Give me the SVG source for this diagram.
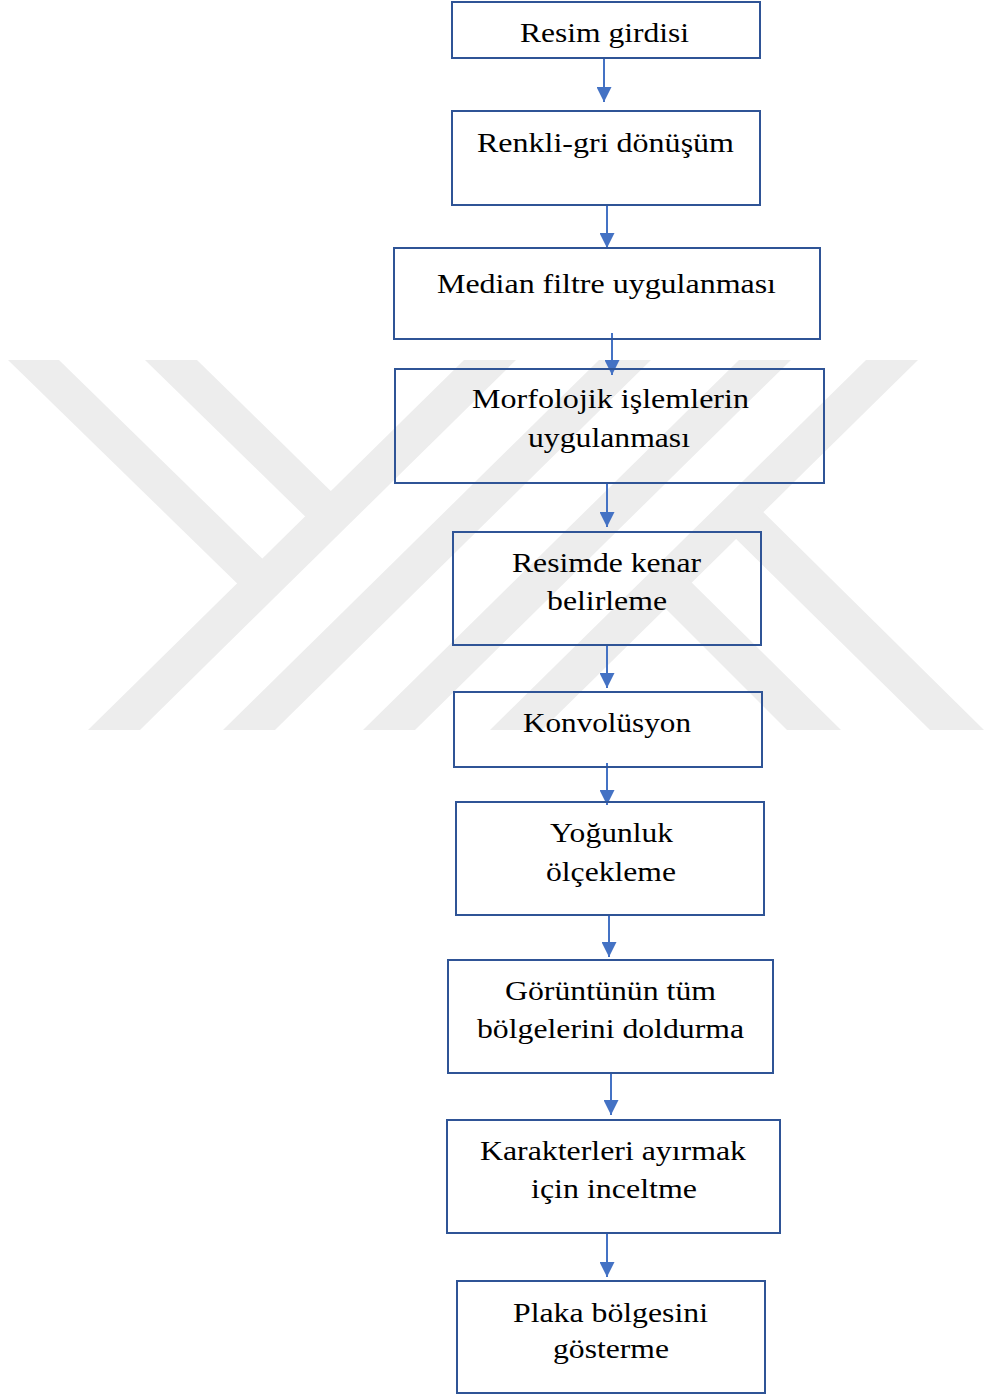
<svg xmlns="http://www.w3.org/2000/svg" width="984" height="1395" viewBox="0 0 984 1395">
  <style>
    .wm { fill: #ededed; stroke: none; }
    .box { fill: none; stroke: #2f5496; stroke-width: 2; }
    .lbl { font-family: "Liberation Serif", "Times New Roman", serif; font-size: 28px; fill: #000000; }
    .conn { stroke: #4472c4; stroke-width: 2; fill: none; marker-end: url(#arrow); }
  </style>
  <defs>
    <marker id="arrow" markerUnits="userSpaceOnUse" markerWidth="15" markerHeight="15" viewBox="0 0 15 15" refX="15" refY="7.5" orient="auto">
      <path d="M0,0 L15,7.5 L0,15 Z" fill="#4472c4"/>
    </marker>
  </defs>
  <rect x="0" y="0" width="984" height="1395" fill="#ffffff"/>

  <g id="watermark">
    <polygon class="wm" points="8,360 59,360 275,571 250,596"/>
    <polygon class="wm" points="145,360 197,360 344,504 318,529"/>
    <polygon class="wm" points="88,730 140,730 516,360 464,360"/>
    <polygon class="wm" points="223,730 275,730 651,360 599,360"/>
    <polygon class="wm" points="363,730 415,730 791,360 739,360"/>
    <polygon class="wm" points="490,730 542,730 918,360 866,360"/>
    <polygon class="wm" points="750,499 984,730 930,730 723,526"/>
    <polygon class="wm" points="679,570 841,730 787,730 653,596"/>
  </g>

  <g id="connectors">
    <line class="conn" x1="604" y1="58" x2="604" y2="102"/>
    <line class="conn" x1="607" y1="205" x2="607" y2="248"/>
    <line class="conn" x1="612" y1="333" x2="612" y2="375"/>
    <line class="conn" x1="607" y1="483" x2="607" y2="527"/>
    <line class="conn" x1="607" y1="645" x2="607" y2="688"/>
    <line class="conn" x1="607" y1="763" x2="607" y2="805"/>
    <line class="conn" x1="609" y1="916" x2="609" y2="957"/>
    <line class="conn" x1="611" y1="1073" x2="611" y2="1115"/>
    <line class="conn" x1="607" y1="1233" x2="607" y2="1277"/>
  </g>

  <g id="n1">
    <rect class="box" x="452" y="2" width="308" height="56"/>
    <text class="lbl" x="520" y="42" textLength="169" lengthAdjust="spacingAndGlyphs">Resim girdisi</text>
  </g>
  <g id="n2">
    <rect class="box" x="452" y="111" width="308" height="94"/>
    <text class="lbl" x="477" y="152" textLength="257" lengthAdjust="spacingAndGlyphs">Renkli-gri dönüşüm</text>
  </g>
  <g id="n3">
    <rect class="box" x="394" y="248" width="426" height="91"/>
    <text class="lbl" x="437" y="293" textLength="339" lengthAdjust="spacingAndGlyphs">Median filtre uygulanması</text>
  </g>
  <g id="n4">
    <rect class="box" x="395" y="369" width="429" height="114"/>
    <text class="lbl" x="472" y="408" textLength="277" lengthAdjust="spacingAndGlyphs">Morfolojik işlemlerin</text>
    <text class="lbl" x="528" y="447" textLength="162" lengthAdjust="spacingAndGlyphs">uygulanması</text>
  </g>
  <g id="n5">
    <rect class="box" x="453" y="532" width="308" height="113"/>
    <text class="lbl" x="512" y="572" textLength="189" lengthAdjust="spacingAndGlyphs">Resimde kenar</text>
    <text class="lbl" x="547" y="610" textLength="120" lengthAdjust="spacingAndGlyphs">belirleme</text>
  </g>
  <g id="n6">
    <rect class="box" x="454" y="692" width="308" height="75"/>
    <text class="lbl" x="523" y="732" textLength="168" lengthAdjust="spacingAndGlyphs">Konvolüsyon</text>
  </g>
  <g id="n7">
    <rect class="box" x="456" y="802" width="308" height="113"/>
    <text class="lbl" x="550" y="842" textLength="123" lengthAdjust="spacingAndGlyphs">Yoğunluk</text>
    <text class="lbl" x="546" y="881" textLength="130" lengthAdjust="spacingAndGlyphs">ölçekleme</text>
  </g>
  <g id="n8">
    <rect class="box" x="448" y="960" width="325" height="113"/>
    <text class="lbl" x="505" y="1000" textLength="211" lengthAdjust="spacingAndGlyphs">Görüntünün tüm</text>
    <text class="lbl" x="477" y="1038" textLength="267" lengthAdjust="spacingAndGlyphs">bölgelerini doldurma</text>
  </g>
  <g id="n9">
    <rect class="box" x="447" y="1120" width="333" height="113"/>
    <text class="lbl" x="480" y="1160" textLength="266" lengthAdjust="spacingAndGlyphs">Karakterleri ayırmak</text>
    <text class="lbl" x="531" y="1198" textLength="166" lengthAdjust="spacingAndGlyphs">için inceltme</text>
  </g>
  <g id="n10">
    <rect class="box" x="457" y="1281" width="308" height="112"/>
    <text class="lbl" x="513" y="1322" textLength="195" lengthAdjust="spacingAndGlyphs">Plaka bölgesini</text>
    <text class="lbl" x="553" y="1358" textLength="116" lengthAdjust="spacingAndGlyphs">gösterme</text>
  </g>
</svg>
